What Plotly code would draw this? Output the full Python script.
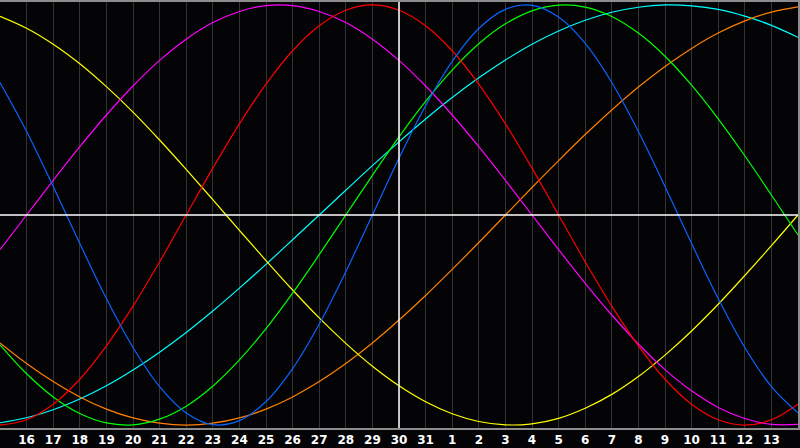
import plotly.graph_objects as go

# Day labels across the chart (index 0 = left edge, index 30 = right edge)
day_labels = ["15", "16", "17", "18", "19", "20", "21", "22", "23", "24", "25", "26",
              "27", "28", "29", "30", "31", "1", "2", "3", "4", "5", "6", "7", "8",
              "9", "10", "11", "12", "13", "14"]
today_index = 15

# Curve values, one per day (-1 .. +1)
blue = [0.631, 0.398, 0.136, -0.136, -0.398, -0.631, -0.817, -0.942, -0.998, -0.979,
        -0.888, -0.731, -0.520, -0.270, 0.0, 0.270, 0.520, 0.731, 0.888, 0.979,
        0.998, 0.942, 0.817, 0.631, 0.398, 0.136, -0.136, -0.398, -0.631, -0.817, -0.942]
red = [-1.0, -0.975, -0.901, -0.782, -0.623, -0.434, -0.223, 0.0, 0.223, 0.434,
       0.623, 0.782, 0.901, 0.975, 1.0, 0.975, 0.901, 0.782, 0.623, 0.434,
       0.223, 0.0, -0.223, -0.434, -0.623, -0.782, -0.901, -0.975, -1.0, -0.975, -0.901]
green = [-0.618, -0.756, -0.866, -0.945, -0.990, -0.999, -0.972, -0.910, -0.815, -0.690,
         -0.541, -0.372, -0.189, 0.0, 0.189, 0.372, 0.541, 0.690, 0.815, 0.910,
         0.972, 0.999, 0.990, 0.945, 0.866, 0.756, 0.618, 0.458, 0.282, 0.095, -0.095]
magenta = [-0.165, 0.0, 0.165, 0.325, 0.476, 0.614, 0.736, 0.837, 0.916, 0.969,
           0.997, 0.997, 0.969, 0.916, 0.837, 0.736, 0.614, 0.476, 0.325, 0.165,
           0.0, -0.165, -0.325, -0.476, -0.614, -0.736, -0.837, -0.916, -0.969, -0.997, -0.997]
yellow = [0.946, 0.889, 0.813, 0.720, 0.611, 0.490, 0.357, 0.217, 0.073, -0.073,
          -0.217, -0.357, -0.490, -0.611, -0.720, -0.813, -0.889, -0.946, -0.983, -0.999,
          -0.994, -0.968, -0.920, -0.854, -0.769, -0.667, -0.552, -0.425, -0.288, -0.146, 0.0]
orange = [-0.609, -0.707, -0.793, -0.866, -0.924, -0.966, -0.991, -1.0, -0.991, -0.966,
          -0.924, -0.866, -0.793, -0.707, -0.609, -0.5, -0.383, -0.259, -0.131, 0.0,
          0.131, 0.259, 0.383, 0.5, 0.609, 0.707, 0.793, 0.866, 0.924, 0.966, 0.991]
cyan = [-0.989, -0.965, -0.927, -0.876, -0.813, -0.738, -0.653, -0.559, -0.457, -0.348,
        -0.235, -0.118, 0.0, 0.118, 0.235, 0.348, 0.457, 0.559, 0.653, 0.738,
        0.813, 0.876, 0.927, 0.965, 0.989, 1.0, 0.996, 0.979, 0.947, 0.903, 0.846]

series = [
    ("cyan", cyan, "#00ffff"),
    ("orange", orange, "#ff8000"),
    ("yellow", yellow, "#ffff00"),
    ("magenta", magenta, "#ff00ff"),
    ("green", green, "#00ff00"),
    ("red", red, "#ff0000"),
    ("blue", blue, "#0a64ff"),
]

x = list(range(len(day_labels)))

fig = go.Figure()
for name, vals, col in series:
    fig.add_trace(go.Scatter(x=x, y=vals, mode="lines", name=name,
                             line=dict(color=col, width=1.2, shape="spline", smoothing=1.0),
                             hoverinfo="skip"))

# center (zero) line and today line
fig.add_hline(y=0, line=dict(color="#ffffff", width=1.5), layer="above")
fig.add_vline(x=today_index, line=dict(color="#ffffff", width=1.5), layer="above")

fig.update_layout(
    width=800, height=448,
    margin=dict(l=0, r=0, t=0, b=20),
    paper_bgcolor="#040406",
    plot_bgcolor="#040406",
    showlegend=False,
    hovermode=False,
    xaxis=dict(
        range=[0, len(day_labels) - 1],
        tickvals=x[1:-1],
        ticktext=day_labels[1:-1],
        showgrid=True, gridcolor="#333333", gridwidth=1,
        zeroline=False,
        showline=True, linecolor="#8c8c8c", linewidth=2, mirror=True,
        ticks="",
        tickfont=dict(family="DejaVu Sans", size=12, color="#ffffff", weight="bold"),
        fixedrange=True,
    ),
    yaxis=dict(
        range=[-1.014, 1.014],
        showgrid=False, zeroline=False,
        showticklabels=False,
        showline=True, linecolor="#8c8c8c", linewidth=2, mirror=True,
        ticks="",
        fixedrange=True,
    ),
)

fig.write_html("out.html", config={"displayModeBar": False},
               post_script="document.body.style.margin='0';document.body.style.padding='0';"
                           "document.body.style.background='#040406';")
